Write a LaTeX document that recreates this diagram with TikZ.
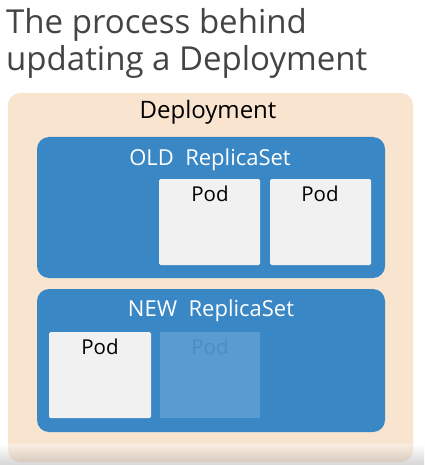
\documentclass[tikz,border=0pt]{standalone}
\usepackage{fontspec}
\setmainfont{Open Sans}
\usetikzlibrary{positioning}
\definecolor{depfill}{HTML}{F8E4CF}
\definecolor{rsblue}{HTML}{3A87C6}
\definecolor{podfill}{HTML}{F1F1F1}
\definecolor{ghostfill}{HTML}{5B9CD0}
\definecolor{ghosttext}{HTML}{4A8CC4}
\definecolor{titlegrey}{HTML}{444444}
\tikzset{
  dep/.style={fill=depfill, rounded corners=12pt},
  rsbox/.style={fill=rsblue, rounded corners=12pt},
  podbox/.style={fill=podfill, rounded corners=1.5pt},
  ghostbox/.style={fill=ghostfill},
  lbl/.style={inner sep=0pt, anchor=base},
}
\begin{document}
\begin{tikzpicture}[x=1pt,y=-1pt]
\useasboundingbox (0,0) rectangle (424,465);
\fill[white] (0,0) rectangle (424,465);
% title
\node[lbl, anchor=base west, text=titlegrey, font=\fontsize{33}{38}\selectfont] (t1) at (6,34) {The process behind};
\node[lbl, anchor=base west, text=titlegrey, font=\fontsize{33}{38}\selectfont] (t2) at (6,71) {updating a Deployment};
% deployment
\path[dep] (8,93) rectangle (413,462);
\node[lbl, font=\fontsize{24}{28}\selectfont] (dlab) at (208,119) {Deployment};
% old RS
\path[rsbox] (37,137) rectangle (385,278);
\node[lbl, text=white, font=\fontsize{22}{26}\selectfont] (oldlab) at (210,165) {OLD\ \ ReplicaSet};
\path[podbox] (159,179) rectangle (260,265);
\node[lbl, font=\fontsize{20.5}{24}\selectfont] (op1) at (210,201) {Pod};
\path[podbox] (270,179) rectangle (371,265);
\node[lbl, font=\fontsize{20.5}{24}\selectfont] (op2) at (320,201) {Pod};
% new RS
\path[rsbox] (37,289) rectangle (385,432);
\node[lbl, text=white, font=\fontsize{22}{26}\selectfont] (newlab) at (211,316) {NEW\ \ ReplicaSet};
\path[podbox] (49,332) rectangle (151,418);
\node[lbl, font=\fontsize{20.5}{24}\selectfont] (np1) at (100,354) {Pod};
\path[ghostbox] (160,332) rectangle (260,418);
\node[lbl, text=ghosttext, font=\fontsize{20.5}{24}\selectfont] (np2) at (210,354) {Pod};
% bottom fade
\shade[top color=white, bottom color=black!40, opacity=0.4] (0,444) rectangle (424,465);
\end{tikzpicture}
\end{document}
